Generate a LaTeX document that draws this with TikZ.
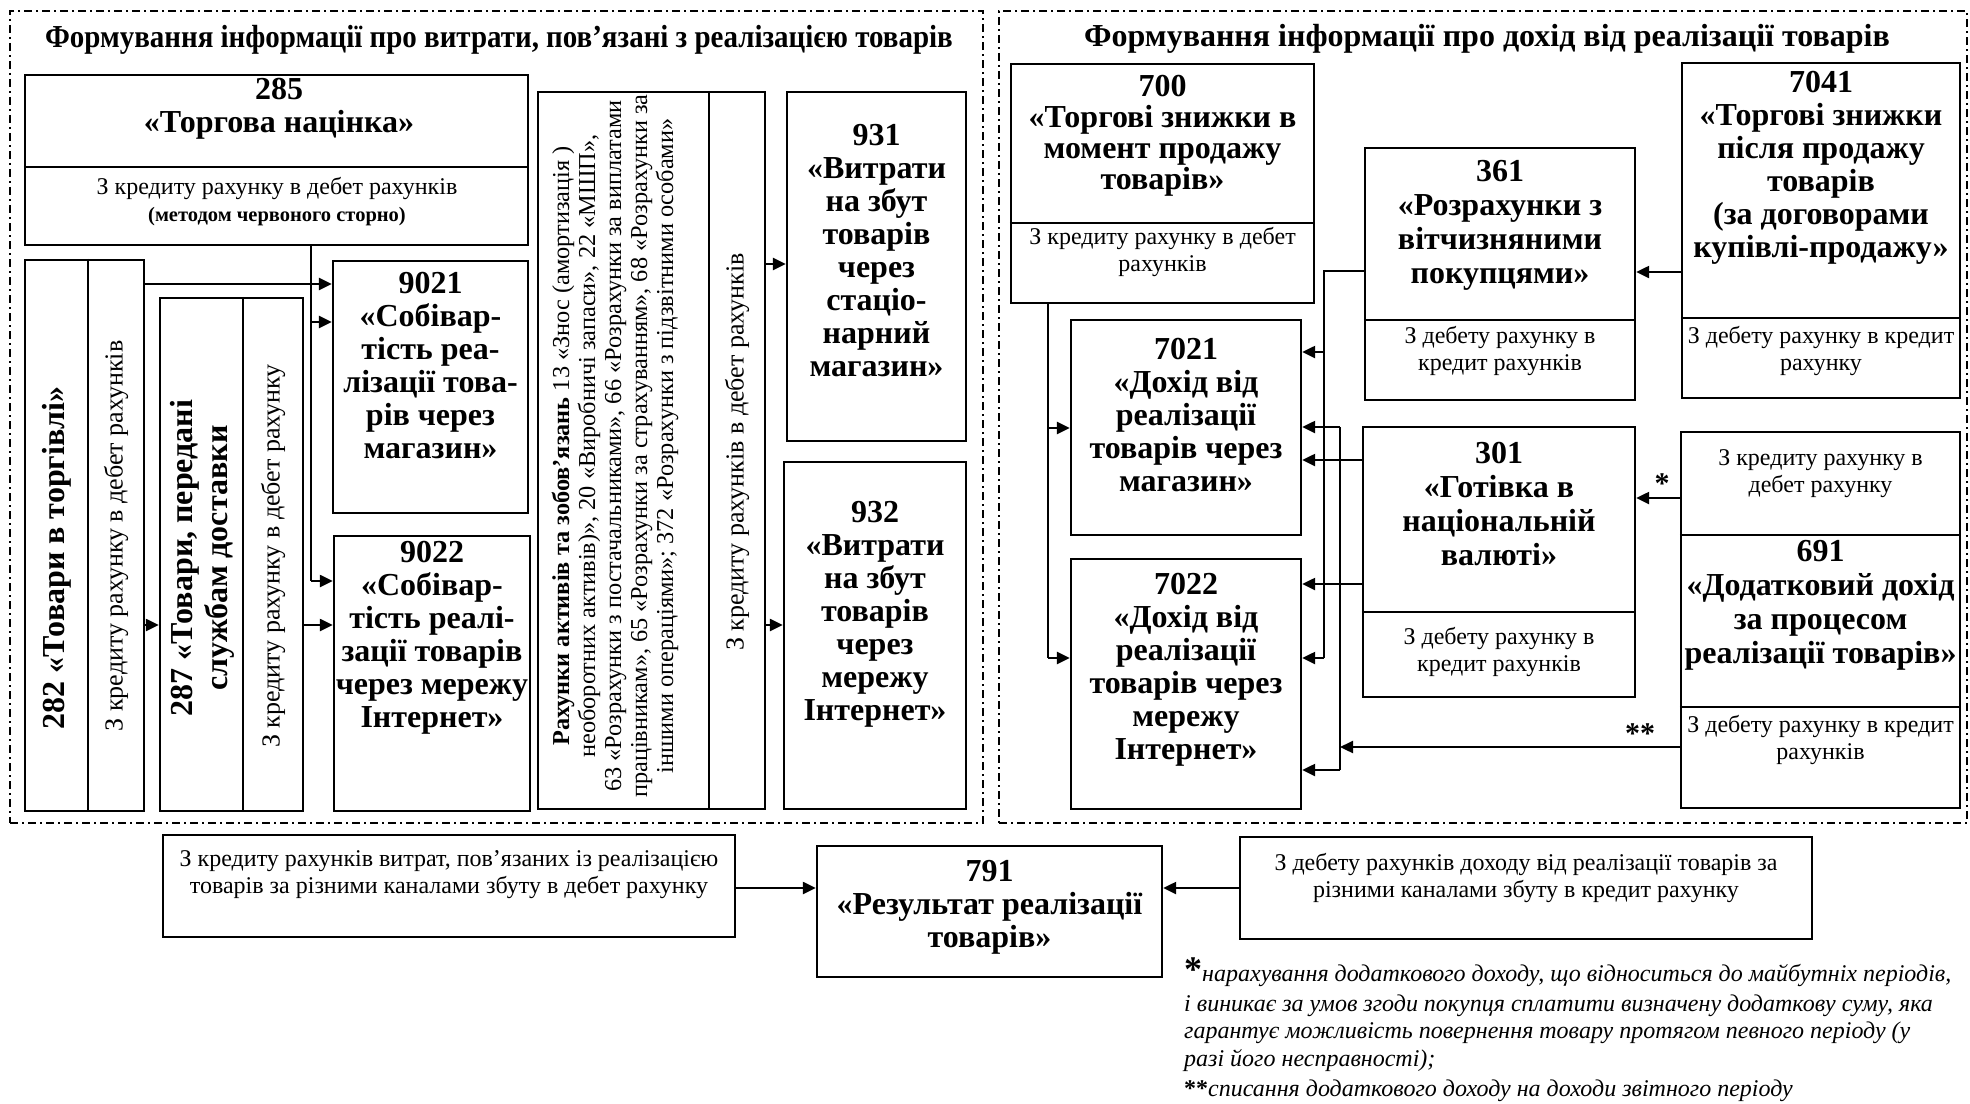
\documentclass[tikz,border=0pt]{standalone}
\usepackage{fontspec}
\setmainfont{Liberation Serif}
\usetikzlibrary{arrows.meta,fit,calc}
\begin{document}
\begin{tikzpicture}[x=1pt,y=-1pt,
 bx/.style={draw, line width=2.4pt, inner sep=0pt},
 dv/.style={line width=2.2pt},
 ttl/.style={font=\bfseries\fontsize{32}{33}\selectfont, align=center, inner sep=0pt},
 rg/.style={font=\fontsize{24}{27}\selectfont, align=center, inner sep=0pt},
 vrg/.style={font=\fontsize{26}{28}\selectfont, align=center, inner sep=0pt, rotate=90},
 vttl/.style={ttl, rotate=90},
 arr/.style={line width=2.4pt, -{Triangle[length=13pt,width=12pt]}},
 ln/.style={line width=1.9pt},
 frm/.style={draw, line width=2pt, inner sep=0pt, dash pattern=on 8pt off 4pt on 2pt off 4pt},
 hdr/.style={font=\bfseries\fontsize{32}{34}\selectfont, inner sep=0pt},
 fn/.style={font=\itshape\fontsize{24}{29}\selectfont, inner sep=0pt, anchor=base west}]
\useasboundingbox (0,0) rectangle (1970,1103);
\fill[white] (0,0) rectangle (1970,1103);

% frames
\node[frm, fit={(10,11) (983,823)}] (fL) {};
\node[frm, fit={(999,11) (1967,823)}] (fR) {};
\node[hdr] (hL) at (499,40) {\scalebox{0.905}[1]{Формування інформації про витрати, пов’язані з реалізацією товарів}};
\node[hdr] (hR) at (1487,39) {Формування інформації про дохід від реалізації товарів};

% ---------- left panel ----------
\node[bx, fit={(25,75) (528,245)}] (b285) {};
\draw[dv] (b285.west |- 0,167) -- (b285.east |- 0,167);
\node[ttl] (t285) at (279,109) {285\\«Торгова націнка»};
\node[rg] (t285s) at (277,202) {З кредиту рахунку в дебет рахунків\\{\bfseries\fontsize{20.5}{27}\selectfont (методом червоного сторно)}};

\node[bx, fit={(25,260) (144,811)}] (b282) {};
\draw[dv] (b282.north -| 88,0) -- (b282.south -| 88,0);
\node[vttl] (t282) at (56.5,558) {282 «Товари в торгівлі»};
\node[vrg] (t282s) at (116,536) {З кредиту рахунку в дебет рахунків};

\node[bx, fit={(160,298) (303,811)}] (b287) {};
\draw[dv] (b287.north -| 243,0) -- (b287.south -| 243,0);
\node[vttl, font=\bfseries\fontsize{32}{35}\selectfont] (t287) at (202,558) {287 «Товари, передані\\службам доставки};
\node[vrg] (t287s) at (273,556) {З кредиту рахунку в дебет рахунку};

\node[bx, fit={(333,261) (528,513)}] (b9021) {};
\node[ttl] (t9021) at (430.5,366) {9021\\«Собівар-\\тість реа-\\лізації това-\\рів через\\магазин»};
\node[bx, fit={(334,536) (530,811)}] (b9022) {};
\node[ttl] (t9022) at (432,637.5) {9022\\«Собівар-\\тість реалі-\\зації товарів\\через мережу\\Інтернет»};

\node[bx, fit={(538,92) (765,809)}] (bacc) {};
\draw[dv] (bacc.north -| 709,0) -- (bacc.south -| 709,0);
\node[vrg, font=\fontsize{24.3}{26}\selectfont] (tacc) at (615,446) {\textbf{Рахунки активів та зобов’язань} 13 «Знос (амортизація )\\необоротних активів)», 20 «Виробничі запаси», 22 «МШП»,\\63 «Розрахунки з постачальниками», 66 «Розрахунки за виплатами\\працівникам», 65 «Розрахунки за страхуванням», 68 «Розрахунки за\\іншими операціями»; 372 «Розрахунки з підзвітними особами»};
\node[vrg] (taccs) at (737,452) {З кредиту рахунків в дебет рахунків};

\node[bx, fit={(787,92) (966,441)}] (b931) {};
\node[ttl] (t931) at (876.5,250.5) {931\\«Витрати\\на збут\\товарів\\через\\стаціо-\\нарний\\магазин»};
\node[bx, fit={(784,462) (966,809)}] (b932) {};
\node[ttl] (t932) at (875,614) {932\\«Витрати\\на збут\\товарів\\через\\мережу\\Інтернет»};

% left connectors
\coordinate (c285a) at (311,322);
\coordinate (c285b) at (311,581);
\draw[ln] (c285a |- b285.south) -- (c285b);
\draw[arr] (c285a) -- (b9021.west |- c285a);
\draw[arr] (c285b) -- (b9022.west |- c285b);
\draw[arr] (b282.east |- 0,284) -- (b9021.west |- 0,284);
\draw[arr] (b282.east |- 0,625) -- (b287.west |- 0,625);
\draw[arr] (b287.east |- 0,625) -- (b9022.west |- 0,625);
\draw[arr] (bacc.east |- 0,264) -- (b931.west |- 0,264);
\draw[arr] (bacc.east |- 0,625) -- (b932.west |- 0,625);

% ---------- right panel ----------
\node[bx, fit={(1011,64) (1314,303)}] (b700) {};
\draw[dv] (b700.west |- 0,223) -- (b700.east |- 0,223);
\node[ttl, font=\bfseries\fontsize{32}{31}\selectfont] (t700) at (1162.5,136) {700\\«Торгові знижки в\\момент продажу\\товарів»};
\node[rg] (t700s) at (1162.5,252) {З кредиту рахунку в дебет\\рахунків};

\node[bx, fit={(1365,148) (1635,400)}] (b361) {};
\draw[dv] (b361.west |- 0,320) -- (b361.east |- 0,320);
\node[ttl, font=\bfseries\fontsize{32}{34}\selectfont] (t361) at (1500,225) {361\\«Розрахунки з\\вітчизняними\\покупцями»};
\node[rg] (t361s) at (1500,350.5) {З дебету рахунку в\\кредит рахунків};

\node[bx, fit={(1682,63) (1960,398)}] (b7041) {};
\draw[dv] (b7041.west |- 0,318) -- (b7041.east |- 0,318);
\node[ttl] (t7041) at (1821,168) {7041\\«Торгові знижки\\після продажу\\товарів\\(за договорами\\купівлі-продажу»};
\node[rg] (t7041s) at (1821,350.5) {З дебету рахунку в кредит\\рахунку};

\node[bx, fit={(1071,320) (1301,535)}] (b7021) {};
\node[ttl] (t7021) at (1186,415) {7021\\«Дохід від\\реалізації\\товарів через\\магазин»};
\node[bx, fit={(1071,559) (1301,809)}] (b7022) {};
\node[ttl] (t7022) at (1186,670) {7022\\«Дохід від\\реалізації\\товарів через\\мережу\\Інтернет»};

\node[bx, fit={(1363,427) (1635,697)}] (b301) {};
\draw[dv] (b301.west |- 0,612) -- (b301.east |- 0,612);
\node[ttl, font=\bfseries\fontsize{32}{34}\selectfont] (t301) at (1499,504) {301\\«Готівка в\\національній\\валюті»};
\node[rg] (t301s) at (1499,652) {З дебету рахунку в\\кредит рахунків};

\node[bx, fit={(1681,432) (1960,808)}] (b691) {};
\draw[dv] (b691.west |- 0,535) -- (b691.east |- 0,535);
\draw[dv] (b691.west |- 0,707) -- (b691.east |- 0,707);
\node[rg] (t691a) at (1820.5,473.5) {З кредиту рахунку в\\дебет рахунку};
\node[ttl, font=\bfseries\fontsize{32}{34}\selectfont] (t691) at (1820.5,605) {691\\«Додатковий дохід\\за процесом\\реалізації товарів»};
\node[rg] (t691c) at (1820.5,739.5) {З дебету рахунку в кредит\\рахунків};

% right connectors
\draw[arr] (b7041.west |- 0,272) -- (b361.east |- 0,272);
\coordinate (c700a) at (1048,428);
\coordinate (c700b) at (1048,658);
\draw[ln] (c700a |- b700.south) -- (c700b);
\draw[arr] (c700a) -- (b7021.west |- c700a);
\draw[arr] (c700b) -- (b7022.west |- c700b);
\coordinate (c361a) at (1324,352);
\coordinate (c361b) at (1324,658);
\draw[ln] (b361.west |- 0,271) -| (c361b);
\draw[arr] (c361a) -- (b7021.east |- c361a);
\draw[arr] (c361b) -- (b7022.east |- c361b);
\draw[arr] (b301.west |- 0,460) -- (b7021.east |- 0,460);
\draw[arr] (b301.west |- 0,584) -- (b7022.east |- 0,584);
\coordinate (c691a) at (1340,427);
\coordinate (c691b) at (1340,770);
\coordinate (c691m) at (1340,747);
\draw[ln] (c691a) -- (c691b);
\draw[arr] (c691a) -- (b7021.east |- c691a);
\draw[arr] (c691b) -- (b7022.east |- c691b);
\draw[arr] (b691.west |- c691m) -- (c691m);
\draw[arr] (b691.west |- 0,498) -- (b301.east |- 0,498);
\node[font=\bfseries\fontsize{30}{30}\selectfont, inner sep=0pt] (st1) at (1662,484) {*};
\node[font=\bfseries\fontsize{30}{30}\selectfont, inner sep=0pt] (st2) at (1640,734) {**};

% ---------- bottom ----------
\node[bx, fit={(163,835) (735,937)}] (bL) {};
\node[rg] (tL) at (449,875) {З кредиту рахунків витрат, пов’язаних із реалізацією\\товарів за різними каналами збуту в дебет рахунку};
\node[bx, fit={(817,846) (1162,977)}] (b791) {};
\node[ttl] (t791) at (989.5,907) {791\\«Результат реалізації\\товарів»};
\node[bx, fit={(1240,837) (1812,939)}] (bR) {};
\node[rg] (tR) at (1526,877.5) {З дебету рахунків доходу від реалізації товарів за\\різними каналами збуту в кредит рахунку};
\draw[arr] (bL.east |- 0,888) -- (b791.west |- 0,888);
\draw[arr] (bR.west |- 0,888) -- (b791.east |- 0,888);

% footnotes
\node[fn] (fn1) at (1184,981) {{\upshape\bfseries\fontsize{36}{36}\selectfont *}нарахування додаткового доходу, що відноситься до майбутніх періодів,};
\node[fn] (fn2) at (1184,1011) {і виникає за умов згоди покупця сплатити визначену додаткову суму, яка};
\node[fn] (fn3) at (1184,1038) {гарантує можливість повернення товару протягом певного періоду (у};
\node[fn] (fn4) at (1184,1066) {разі його несправності);};
\node[fn] (fn5) at (1184,1096) {{\upshape\bfseries **}списання додаткового доходу на доходи звітного періоду};
\end{tikzpicture}
\end{document}
